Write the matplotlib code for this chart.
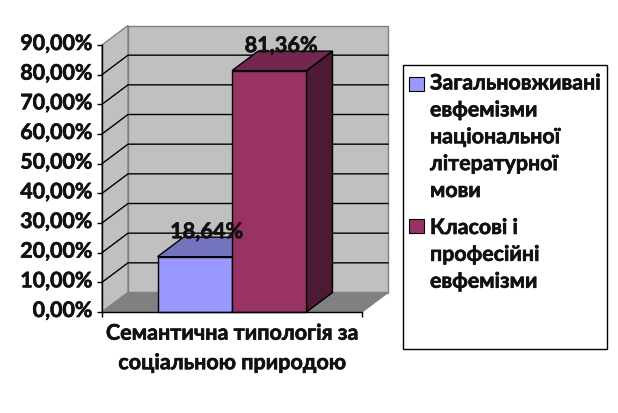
import matplotlib
matplotlib.use("Agg")
import matplotlib.pyplot as plt
from matplotlib.patches import Polygon, Rectangle
from matplotlib.transforms import Affine2D, ScaledTranslation
import matplotlib.patheffects as pe

plt.rcParams['font.family'] = ['Lato', 'Noto Sans', 'DejaVu Sans']

category = "Семантична типологія за\nсоціальною природою"
series = ["Загальновживані\nевфемізми\nнаціональної\nлітературної\nмови",
          "Класові і\nпрофесійні\nевфемізми"]
values = [18.64, 81.36]
labels = ["18,64%", "81,36%"]
yticks = [0, 10, 20, 30, 40, 50, 60, 70, 80, 90]
ytick_labels = ["0,00%", "10,00%", "20,00%", "30,00%", "40,00%", "50,00%",
                "60,00%", "70,00%", "80,00%", "90,00%"]
face = ["#9999FF", "#993366"]
top = ["#7373BF", "#732650"]
side = ["#4D4D80", "#4D1A33"]

W, H = 618, 413
fig = plt.figure(figsize=(W / 100, H / 100), dpi=100, facecolor="white")
L, R, T, B = 102, 362, 45, 312
ax = fig.add_axes([L / W, 1 - B / H, (R - L) / W, (B - T) / H])
ax.patch.set_visible(False)
half = 1.745
ax.set_xlim(-half, half)
ax.set_ylim(0, 90)

DX, DY = 26, 19.5
depth = ax.transData + Affine2D().translate(DX, DY)
ax_tr = ax.transData
heavy = [pe.withStroke(linewidth=0.45, foreground="#111111")]

def quad(pts, fc, ec, z, lw=1.0):
    """pts: (x, y, in_back) in data coordinates; back points get the depth shift."""
    disp = [(depth if b else ax_tr).transform((x, y)) for x, y, b in pts]
    ax.add_patch(Polygon(disp, closed=True, transform=None, facecolor=fc,
                         edgecolor=ec, linewidth=lw, zorder=z, clip_on=False))

# walls and floor
quad([(-half, 0, 1), (half, 0, 1), (half, 90, 1), (-half, 90, 1)], "#C0C0C0", "#808080", 1)
quad([(-half, 0, 0), (-half, 0, 1), (-half, 90, 1), (-half, 90, 0)], "#C0C0C0", "#808080", 1)
quad([(-half, 0, 0), (half, 0, 0), (half, 0, 1), (-half, 0, 1)], "#808080", "#808080", 1)

# gridlines
for v in yticks[1:-1]:
    p0 = ax_tr.transform((-half, v))
    p1 = depth.transform((-half, v))
    p2 = depth.transform((half, v))
    ax.plot([p0[0], p1[0], p2[0]], [p0[1], p1[1], p2[1]], transform=None,
            color="black", lw=1.0, zorder=2, clip_on=False, solid_joinstyle="miter")

# bars
positions = [-0.5, 0.5]
for i, (x, v) in enumerate(zip(positions, values)):
    a, b = x - 0.5, x + 0.5
    z = 3 + i
    quad([(b, 0, 0), (b, 0, 1), (b, v, 1), (b, v, 0)], side[i], "black", z)
    quad([(a, v, 0), (b, v, 0), (b, v, 1), (a, v, 1)], top[i], "black", z)
    quad([(a, 0, 0), (b, 0, 0), (b, v, 0), (a, v, 0)], face[i], "black", z)
    t = ax.annotate(labels[i], (x, v), xytext=(12 * 0.72, 25 * 0.72), textcoords="offset points",
                    ha="center", va="center", fontsize=15.6, fontweight="bold",
                    color="#111111", zorder=10, annotation_clip=False)
    t.set_path_effects(heavy)

# axes
for s in ("top", "right"):
    ax.spines[s].set_visible(False)
for s in ("left", "bottom"):
    ax.spines[s].set_zorder(6)
    ax.spines[s].set_linewidth(1.0)
ax.set_yticks(yticks)
ax.set_yticklabels(ytick_labels, fontsize=15.4, fontweight="bold", color="#111111")
ax.tick_params(axis="y", length=3.6, width=1.0, pad=3.4)
up = ScaledTranslation(0, 3 / 100, fig.dpi_scale_trans)
for lab in ax.get_yticklabels():
    lab.set_transform(lab.get_transform() + up)
    lab.set_path_effects(heavy)
ax.set_xticks([0])
ax.set_xticklabels([category], fontsize=15.5, fontweight="bold", linespacing=1.5, color="#111111")
ax.set_xticks([-half, half], minor=True)
ax.tick_params(axis="x", which="major", length=0, pad=7.7)
ax.tick_params(axis="x", which="minor", length=3.6, width=1.0)
for lab in ax.get_xticklabels():
    lab.set_path_effects(heavy)

# legend
def fx(px): return px / W
def fy(py): return 1 - py / H
fig.add_artist(Rectangle((fx(402.5), fy(349)), (607 - 402.5) / W, (349 - 64.5) / H,
                         transform=fig.transFigure, facecolor="white",
                         edgecolor="black", linewidth=1.0))
swatch_y = [77, 219]
text_y = [73.5, 218]
for i in range(2):
    fig.add_artist(Rectangle((fx(409), fy(swatch_y[i] + 13.5)), 15 / W, 13.5 / H,
                             transform=fig.transFigure, facecolor=face[i],
                             edgecolor="black", linewidth=0.8))
    tx = fig.text(fx(430), fy(text_y[i]), series[i], ha="left", va="top", fontsize=15.4,
                  fontweight="bold", linespacing=1.43, color="#111111")
    tx.set_path_effects(heavy)

fig.savefig("out.png", dpi=100)
